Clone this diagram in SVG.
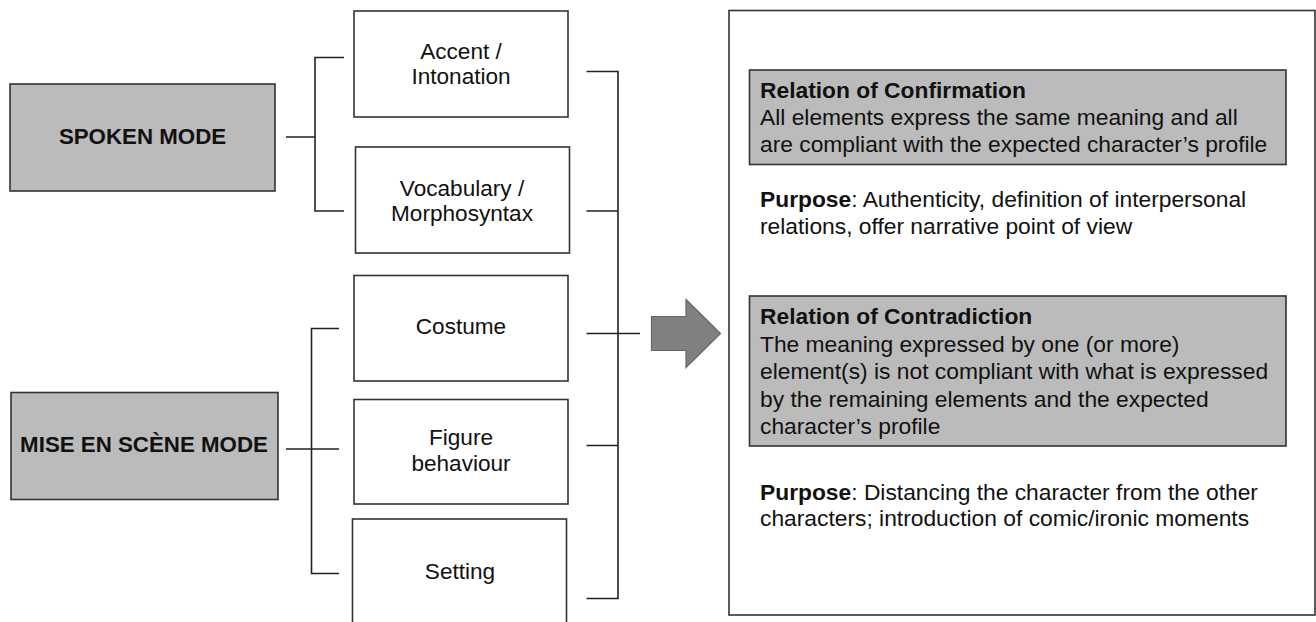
<svg xmlns="http://www.w3.org/2000/svg" width="1316" height="622" viewBox="0 0 1316 622">
<style>
.mode{fill:#bbbbbb;stroke:#333;stroke-width:1.6}
.box{fill:#fff;stroke:#333;stroke-width:1.6}
.rel{fill:#bbbbbb;stroke:#333;stroke-width:1.6}
.t{font-family:"Liberation Sans",Arial,sans-serif;fill:#111}
.mt{font-size:22.3px;font-weight:bold;text-anchor:middle}
.bt{font-size:22.6px;text-anchor:middle}
.rt{font-size:22.8px}
.b{font-weight:bold}
.ln{stroke:#222;stroke-width:1.6;fill:none}
</style>
<rect width="1316" height="622" fill="#fff"/>
<g id="spoken-mode">
<rect class="mode" x="10" y="84" width="265" height="107"/>
<text class="t mt" x="142.5" y="144">SPOKEN MODE</text>
</g>
<g id="mise-en-scene-mode">
<rect class="mode" x="11" y="392.5" width="267" height="107"/>
<text class="t mt" x="144" y="451.5">MISE EN SCÈNE MODE</text>
</g>
<g id="accent">
<rect class="box" x="354" y="11" width="214" height="106"/>
<text class="t bt" x="461" y="58.5">Accent /</text>
<text class="t bt" x="461" y="83.5">Intonation</text>
</g>
<g id="vocabulary">
<rect class="box" x="355.5" y="147" width="214" height="106"/>
<text class="t bt" x="462" y="196">Vocabulary /</text>
<text class="t bt" x="462" y="220.5">Morphosyntax</text>
</g>
<g id="costume">
<rect class="box" x="354" y="275.5" width="214" height="105.5"/>
<text class="t bt" x="461" y="334">Costume</text>
</g>
<g id="figure-behaviour">
<rect class="box" x="354" y="399.5" width="214" height="104.5"/>
<text class="t bt" x="461" y="445">Figure</text>
<text class="t bt" x="461" y="470.5">behaviour</text>
</g>
<g id="setting">
<rect class="box" x="352.5" y="519" width="214" height="110"/>
<text class="t bt" x="460" y="579">Setting</text>
</g>
<g id="relations-panel">
<rect class="box" x="729" y="10.5" width="586" height="604.5"/>
</g>
<g id="confirmation">
<rect class="rel" x="749.5" y="70" width="536.5" height="94.5"/>
<text class="t rt b" x="760" y="97.5">Relation of Confirmation</text>
<text class="t rt" x="760" y="125">All elements express the same meaning and all</text>
<text class="t rt" x="760" y="152">are compliant with the expected character’s profile</text>
</g>
<g id="confirmation-purpose">
<text class="t rt" x="760" y="206.5"><tspan class="b">Purpose</tspan>: Authenticity, definition of interpersonal</text>
<text class="t rt" x="760" y="233.5">relations, offer narrative point of view</text>
</g>
<g id="contradiction">
<rect class="rel" x="749.5" y="296" width="536.5" height="150"/>
<text class="t rt b" x="760" y="323.5">Relation of Contradiction</text>
<text class="t rt" x="760" y="351.5">The meaning expressed by one (or more)</text>
<text class="t rt" x="760" y="379">element(s) is not compliant with what is expressed</text>
<text class="t rt" x="760" y="406.5">by the remaining elements and the expected</text>
<text class="t rt" x="760" y="433.5">character’s profile</text>
</g>
<g id="contradiction-purpose">
<text class="t rt" x="760" y="499.5"><tspan class="b">Purpose</tspan>: Distancing the character from the other</text>
<text class="t rt" x="760" y="526">characters; introduction of comic/ironic moments</text>
</g>
<g id="connectors">
<path class="ln" d="M344,57.5 H315 V211 H344 M286,137 H315"/>
<path class="ln" d="M339,328.5 H311.5 V573.5 H339 M286,449 H339"/>
<path class="ln" d="M586.5,71.5 H618 V598.5 H586.5 M586.5,211 H618 M586.5,333.5 H640 M586.5,445.5 H618"/>
<polygon points="651.5,316.5 686,316.5 686,299.5 720.5,333.5 686,367.5 686,350.5 651.5,350.5" fill="#808080" stroke="#666" stroke-width="1.2"/>
</g>
</svg>
